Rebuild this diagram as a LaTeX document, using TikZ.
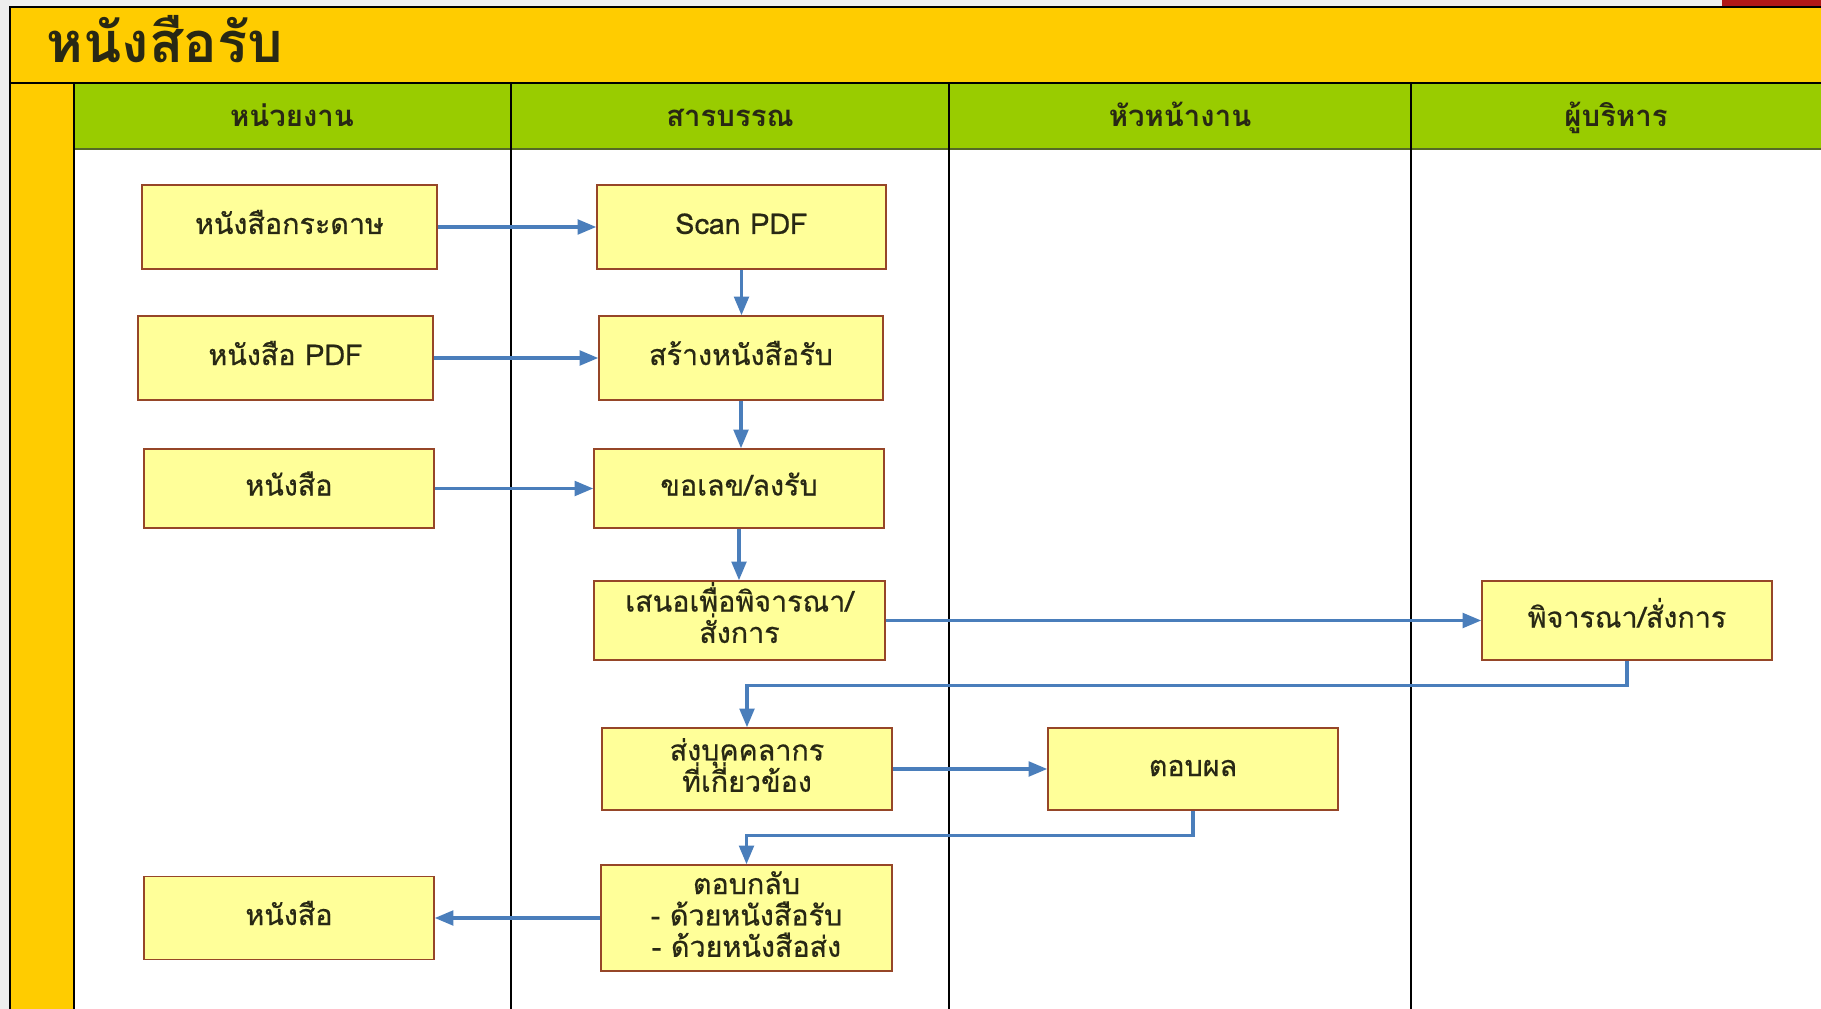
\documentclass[tikz,border=0pt]{standalone}
\usepackage{fontspec}
\setmainfont[Script=Thai]{Loma}
\newfontfamily\boxfont[Script=Thai, FakeBold=0.6]{Loma}
\usetikzlibrary{arrows.meta}

\definecolor{pagegray}{RGB}{238,238,238}
\definecolor{bandyellow}{RGB}{255,204,0}
\definecolor{headgreen}{RGB}{153,204,0}
\definecolor{greenedge}{RGB}{85,105,40}
\definecolor{markred}{RGB}{176,24,24}
\definecolor{boxfill}{RGB}{255,255,153}
\definecolor{boxedge}{RGB}{150,70,40}
\definecolor{boxtext}{RGB}{40,40,20}
\definecolor{flowblue}{RGB}{74,126,187}

% box lettering with a fixed line pitch
\newcommand{\boxtype}{\boxfont\fontsize{21.5}{23.5}\selectfont
  \lineskiplimit -50pt\relax \lineskip 0pt\relax}
% invisible depth used to lift multi-line box text a little
\newcommand{\liftdepth}[1]{\rule[-#1]{0pt}{#1}}

\begin{document}
\begin{tikzpicture}[x=0.75pt,y=-0.75pt,
  box/.style={draw=boxedge, fill=boxfill, line width=1.1pt, align=center,
    inner sep=0pt, text=boxtext, font=\boxtype},
  oneline/.style={text height=14pt, text depth=3.5pt},
  sz/.style 2 args={minimum width=#1*0.75pt, minimum height=#2*0.75pt},
  flow/.style={draw=flowblue, line width=2.4pt, -{Triangle[length=14pt,width=11pt]}},
  lanehead/.style={anchor=base, font=\bfseries\fontsize{22}{24}\selectfont, text=boxtext},
  rule/.style={line width=1.2pt, draw=black}]
\useasboundingbox (0,0) rectangle (1821,1009);

% page, title band, side column, lane headers, body
\fill[pagegray] (0,0) rectangle (1821,1009);
\fill[bandyellow] (10,7) rectangle (1821,83);
\fill[bandyellow] (10,83) rectangle (74,1009);
\fill[headgreen] (74,83) rectangle (1821,150);
\fill[white] (74,150) rectangle (1821,1009);
\fill[markred] (1722,0) rectangle (1821,7);

% frame and lane rules
\draw[rule] (10,1009) -- (10,7) -- (1821,7);
\draw[rule] (10,83) -- (1821,83);
\draw[line width=1.6pt, draw=greenedge] (74,149) -- (1821,149);
\draw[rule] (74,83) -- (74,1009);
\foreach \lx in {511,949,1411} \draw[rule] (\lx,83) -- (\lx,1009);

% title and lane names
\node[anchor=base west, text=boxtext, font=\bfseries\fontsize{42}{44}\selectfont] (title) at (42,63) {หนังสือรับ};
\node[lanehead] (laneA) at (292,127) {หน่วยงาน};
\node[lanehead] (laneB) at (730,127) {สารบรรณ};
\node[lanehead] (laneC) at (1180,127) {หัวหน้างาน};
\node[lanehead] (laneD) at (1616,127) {ผู้บริหาร};

% process boxes
\node[box, oneline, sz={295}{84}] (paper)   at (289.5,227) {หนังสือกระดาษ};
\node[box, oneline, sz={289}{84}] (scan)    at (741.5,227) {Scan PDF};
\node[box, oneline, sz={295}{84}] (pdf)     at (285.5,358) {หนังสือ PDF};
\node[box, oneline, sz={284}{84}] (create)  at (741,358)   {สร้างหนังสือรับ};
\node[box, oneline, sz={290}{79}] (letter)  at (289,488.5) {หนังสือ};
\node[box, oneline, sz={290}{79}] (number)  at (739,488.5) {ขอเลข/ลงรับ};
\node[box, sz={291}{79}] (propose) at (739.5,620.5) {เสนอเพื่อพิจารณา/\\สั่งการ\liftdepth{12pt}};
\node[box, oneline, sz={290}{79}] (decide)  at (1627,620.5) {พิจารณา/สั่งการ};
\node[box, sz={290}{82}] (assign)  at (747,769)   {ส่งบุคคลากร\\ที่เกี่ยวข้อง\liftdepth{6pt}};
\node[box, oneline, sz={290}{82}] (answer)  at (1193,769)  {ตอบผล};
\node[box, sz={291}{106}] (reply)  at (746.5,918) {ตอบกลับ\\- ด้วยหนังสือรับ\\- ด้วยหนังสือส่ง\liftdepth{6pt}};
\node[box, oneline, sz={290}{83}] (out)     at (289,918)   {หนังสือ};

% flow
\draw[flow] (paper.east) -- (scan.west);
\draw[flow] (pdf.east) -- (create.west);
\draw[flow] (letter.east) -- (number.west);
\draw[flow] (scan.south) -- (scan.south |- create.north);
\draw[flow] (create.south) -- (create.south |- number.north);
\draw[flow] (number.south) -- (number.south |- propose.north);
\draw[flow] (propose.east) -- (decide.west);
\draw[flow] (decide.south) -- ++(0,25) -| (assign.north);
\draw[flow] (assign.east) -- (answer.west);
\draw[flow] (answer.south) -- ++(0,25) -| (reply.north);
\draw[flow] (reply.west) -- (out.east);
\end{tikzpicture}
\end{document}
